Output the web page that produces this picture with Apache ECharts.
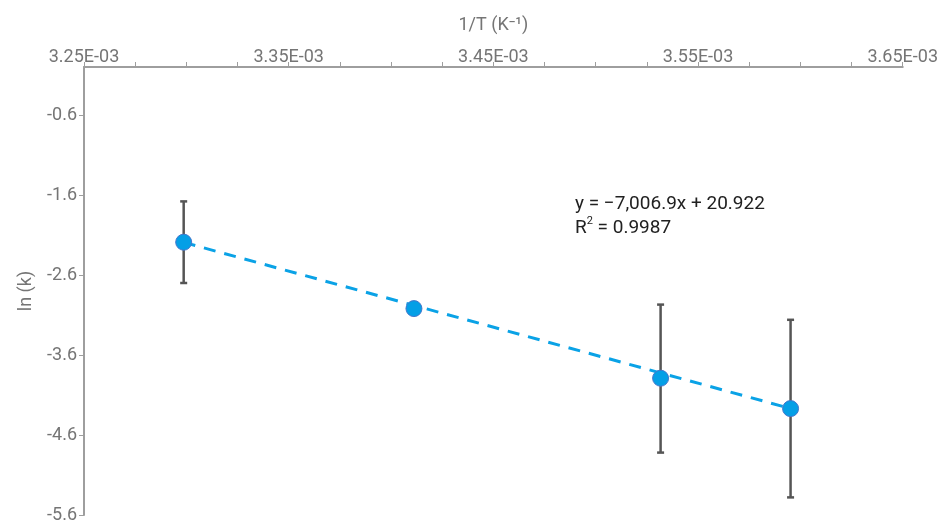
<!DOCTYPE html>
<html>
<head>
<meta charset="utf-8">
<script src="https://cdn.jsdelivr.net/npm/echarts@6/dist/echarts.min.js"></script>
<style>
html,body{margin:0;padding:0;background:#fff;}
#chart{width:941px;height:524px;}
</style>
</head>
<body>
<div id="chart"></div>
<script>
// ---- data ----
const xTickValues = [0.00325, 0.00335, 0.00345, 0.00355, 0.00365];
const xTickLabels = ['3.25E-03', '3.35E-03', '3.45E-03', '3.55E-03', '3.65E-03'];
const xMinorTicks = [0.00325, 0.003275, 0.0033, 0.003325, 0.00335, 0.003375, 0.0034, 0.003425,
                     0.00345, 0.003475, 0.0035, 0.003525, 0.00355, 0.003575, 0.0036, 0.003625, 0.00365];
const yTickValues = [-5.6, -4.6, -3.6, -2.6, -1.6, -0.6];

const invT = [0.0032987, 0.0034112, 0.0035317, 0.0035952];
const lnK = [-2.19, -3.02, -3.89, -4.27];
const errLow = [-2.70, null, -4.82, -5.38];
const errHigh = [-1.68, null, -2.97, -3.16];

const trendX = [0.0032987, 0.0035952];
const trendY = [-2.192, -4.269];

const equationText = 'y = \u22127,006.9x + 20.922';
const r2Text = ' = 0.9987';

// ---- chart ----
const chart = echarts.init(document.getElementById('chart'));
const font = 'Roboto, "Noto Sans", sans-serif';
const axisGray = '#9e9e9e';
const labelGray = '#757575';

const points = invT.map((x, i) => [x, lnK[i]]);
const errData = [];
invT.forEach((x, i) => { if (errLow[i] != null) errData.push([x, errLow[i], errHigh[i]]); });
const trendData = trendX.map((x, i) => [x, trendY[i]]);

function labelFor(v) {
  for (let i = 0; i < xTickValues.length; i++) {
    if (Math.abs(xTickValues[i] - v) < 1e-9) return xTickLabels[i];
  }
  return '';
}

const option = {
  animation: false,
  backgroundColor: '#ffffff',
  grid: { left: 84, right: 38, top: 67, bottom: 7, containLabel: false },
  xAxis: {
    type: 'value',
    position: 'top',
    min: 0.00325,
    max: 0.00365,
    name: '1/T (K\u207B\u00B9)',
    nameLocation: 'middle',
    nameGap: 33,
    nameTextStyle: { color: labelGray, fontSize: 18, fontFamily: font },
    axisLine: { show: true, lineStyle: { color: axisGray, width: 2 } },
    axisTick: { show: true, customValues: xMinorTicks, length: 5, lineStyle: { color: axisGray, width: 1 } },
    axisLabel: {
      customValues: xTickValues,
      formatter: labelFor,
      color: labelGray, fontSize: 18, fontFamily: font, margin: 1
    },
    splitLine: { show: false }
  },
  yAxis: {
    type: 'value',
    min: -5.6,
    max: 0,
    name: 'ln (k)',
    nameLocation: 'middle',
    nameGap: 49,
    nameTextStyle: { color: labelGray, fontSize: 18, fontFamily: font },
    axisLine: { show: true, lineStyle: { color: axisGray, width: 2 } },
    axisTick: { show: true, customValues: yTickValues, length: 5, lineStyle: { color: axisGray, width: 1 } },
    axisLabel: {
      customValues: yTickValues,
      formatter: v => v.toFixed(1),
      color: labelGray, fontSize: 18, fontFamily: font, margin: 7
    },
    splitLine: { show: false }
  },
  series: [
    {
      type: 'custom',
      name: 'error',
      z: 2,
      data: errData,
      renderItem: function (params, api) {
        const x = api.value(0);
        const lo = api.coord([x, api.value(1)]);
        const hi = api.coord([x, api.value(2)]);
        const cap = 3.5;
        const style = { stroke: '#555555', lineWidth: 2.5 };
        return {
          type: 'group',
          children: [
            { type: 'line', shape: { x1: lo[0], y1: lo[1], x2: hi[0], y2: hi[1] }, style: style },
            { type: 'line', shape: { x1: hi[0] - cap, y1: hi[1], x2: hi[0] + cap, y2: hi[1] }, style: style },
            { type: 'line', shape: { x1: lo[0] - cap, y1: lo[1], x2: lo[0] + cap, y2: lo[1] }, style: style }
          ]
        };
      }
    },
    {
      type: 'line',
      name: 'trend',
      z: 3,
      data: trendData,
      showSymbol: false,
      symbol: 'none',
      lineStyle: { color: '#0aa2e6', width: 3, type: [12, 9] }
    },
    {
      type: 'scatter',
      name: 'ln k',
      z: 4,
      data: points,
      symbol: 'circle',
      symbolSize: 16,
      itemStyle: { color: '#049fe6', borderColor: '#4477cc', borderWidth: 1, opacity: 1 }
    }
  ],
  graphic: [
    {
      type: 'text',
      left: 575,
      top: 192,
      z: 10,
      style: {
        text: equationText + '\n' + 'R{sup|2}' + r2Text,
        fill: '#212121',
        fontSize: 19,
        fontFamily: font,
        lineHeight: 24,
        rich: {
          sup: { fontSize: 11, verticalAlign: 'top', lineHeight: 14, fill: '#212121', fontFamily: font, padding: [0, 0, 7, 0] }
        }
      }
    }
  ]
};
chart.setOption(option);
</script>
</body>
</html>
